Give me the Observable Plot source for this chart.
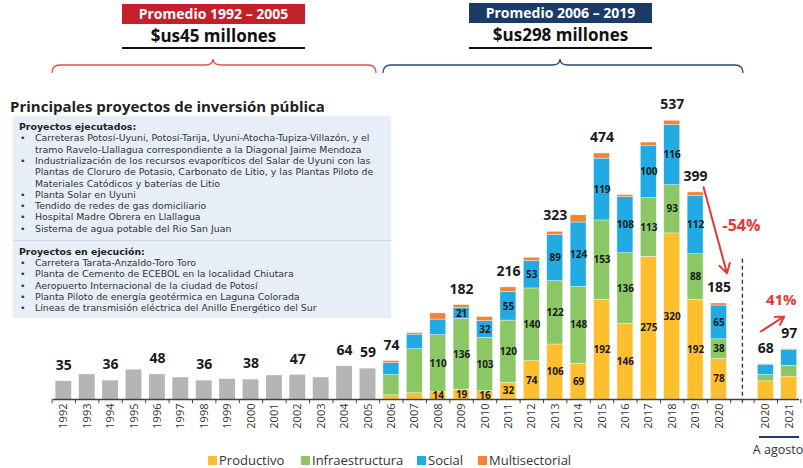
<!DOCTYPE html>
<html><head><meta charset="utf-8">
<script src="https://cdn.jsdelivr.net/npm/d3@7"></script>
<script src="https://cdn.jsdelivr.net/npm/@observablehq/plot@0.6"></script>
<style>
body{margin:0;background:#fff;font-family:"Open Sans",sans-serif;}
#wrap{position:relative;width:803px;height:468px;overflow:hidden;}
#wrap > svg{position:absolute;left:0;top:0;}
.abs{position:absolute;white-space:nowrap;}
.ln{position:absolute;white-space:nowrap;font-family:"DejaVu Sans",sans-serif;font-size:9.4px;line-height:10px;height:10px;color:#333;}
.lg{position:absolute;top:451px;font-size:13px;line-height:18px;color:#333;white-space:nowrap;}
.lg i{display:inline-block;width:9px;height:9px;margin-right:2px;vertical-align:-0px;}
</style></head><body><div id="wrap"></div>
<script>
// ---- data ----
const yearsEarly = ["1992","1993","1994","1995","1996","1997","1998","1999","2000","2001","2002","2003","2004","2005"];
const valuesEarly = [35,48,36,57,48,42,36,39,38,46,47,42,64,59];
const yearsLate = ["2006","2007","2008","2009","2010","2011","2012","2013","2014","2015","2016","2017","2018","2019","2020"];
const productivo      = [8,12,14,19,16,32,74,106,69,192,146,275,320,192,78];
const infraestructura = [39,85,110,136,103,120,140,122,148,153,136,113,93,88,38];
const social          = [23,28,30,21,32,55,53,89,124,119,108,100,116,112,65];
const multisectorial  = [4,3,12,6,8,9,6,6,14,10,4,7,8,7,4];
const yearsAug = ["2020 ago","2021 ago"];
const productivoAug = [35,44];
const infraestructuraAug = [12,21];
const socialAug = [20,30];
const multisectorialAug = [1,2];
const sectors = ["Productivo","Infraestructura","Social","Multisectorial"];
const sectorColors = ["#FDBF2D","#8BC765","#21ABE2","#F08539"];
const tickLabels = {"gap":"","2020 ago":"2020","2021 ago":"2021"};
const totalLabelKeys = ["1992","1994","1996","1998","2000","2002","2004","2005","2006","2009","2011","2013","2015","2018","2019","2020","2020 ago","2021 ago"];
const innerLabelKeys = [
  ["2008","2009","2010","2011","2012","2013","2014","2015","2016","2017","2018","2019","2020"],
  ["2008","2009","2010","2011","2012","2013","2014","2015","2016","2017","2018","2019","2020"],
  ["2009","2010","2011","2012","2013","2014","2015","2016","2017","2018","2019","2020"],
  []
];
const dropArrow = [{x1:"2019", y1:409, x2:"2020", y2:243, label:"-54%", lx:"gap", ly:335}];
const riseArrow = [{x1:"2020 ago", y1:131, x2:"2021 ago", y2:160, label:"41%", lx:"2021 ago", ly:191}];

// ---- tables ----
const keys = [...yearsEarly, ...yearsLate, "gap", ...yearsAug];
const early = yearsEarly.map((k,i)=>({key:k, value:valuesEarly[i]}));
const lateKeys = [...yearsLate, ...yearsAug];
const series = [
  [...productivo, ...productivoAug],
  [...infraestructura, ...infraestructuraAug],
  [...social, ...socialAug],
  [...multisectorial, ...multisectorialAug]
];
const stacked = [];
lateKeys.forEach((k,i)=>sectors.forEach((s,j)=>stacked.push({key:k, sector:s, value:series[j][i], show: innerLabelKeys[j].includes(k)})));
const totals = [...early.map(d=>({key:d.key,total:d.value})),
  ...lateKeys.map((k,i)=>({key:k,total:series.reduce((a,s)=>a+s[i],0)}))]
  .filter(d=>totalLabelKeys.includes(d.key));

const red = "#E53935";
const chart = Plot.plot({
  width:803, height:468,
  marginLeft:53, marginRight:4, marginTop:87.6, marginBottom:69,
  style:{fontFamily:"Open Sans", fontSize:"11px", color:"#333", background:"transparent", overflow:"visible"},
  x:{type:"band", domain:keys, paddingInner:0.32, paddingOuter:0.1, round:false, label:null},
  y:{domain:[0,600], axis:null},
  color:{domain:sectors, range:sectorColors},
  marks:[
    Plot.barY(early, {x:"key", y:"value", fill:"#B5B5B6"}),
    Plot.barY(stacked, {x:"key", y:"value", fill:"sector", order:sectors, stroke:"#fff", strokeOpacity:0.6, strokeWidth:0.6}),
    Plot.text(stacked, Plot.stackY({x:"key", y:"value", z:"sector", order:sectors,
      text:d=>d.show ? String(d.value) : "", fontSize:10, fontWeight:700, fill:"#1a1a1a"})),
    Plot.text(totals, {x:"key", y:"total", text:d=>String(d.total), dy:-16, fontSize:14, fontWeight:700, fill:"#1a1a1a"}),
    Plot.ruleX(["gap"], {y1:-7, y2:274, stroke:"#1F3A6E", strokeWidth:1.4, strokeDasharray:"4,3"}),
    Plot.ruleY([0], {stroke:"#404040", strokeWidth:1.5}),
    Plot.ruleX(keys, {x:d=>d, y1:0, y2:-8, dx:-11.7, stroke:"#404040"}),
    Plot.ruleX(keys.slice(-1), {x:d=>d, y1:0, y2:-8, dx:11.7, stroke:"#404040"}),
    Plot.axisX({tickRotate:-90, tickSize:0, tickPadding:4, tickFormat:d=>(d in tickLabels ? tickLabels[d] : d), fontSize:11, fill:"#333"}),
    Plot.arrow(dropArrow, {x1:"x1", y1:"y1", x2:"x2", y2:"y2", dx:8, stroke:red, strokeWidth:2, headLength:8}),
    Plot.arrow(riseArrow, {x1:"x1", y1:"y1", x2:"x2", y2:"y2", dx:-5, stroke:red, strokeWidth:2, headLength:8}),
    Plot.text(dropArrow, {x:"lx", y:"ly", text:"label", dx:-1, fontSize:16, fontWeight:700, fill:red}),
    Plot.text(riseArrow, {x:"lx", y:"ly", text:"label", dx:-8, fontSize:15, fontWeight:700, fill:red})
  ]
});
const wrap = document.getElementById("wrap");
wrap.appendChild(chart);

// ---- header & annotations ----
function add(html){ wrap.insertAdjacentHTML("beforeend", html); }
add(`<div class="abs" style="left:122px;top:4px;width:183px;height:20px;background:#C4202A;color:#fff;font-weight:700;font-size:14px;line-height:20px;text-align:center;">Promedio 1992 – 2005</div>`);
add(`<div class="abs" style="left:112px;top:25px;width:203px;text-align:center;font-size:17px;font-weight:700;line-height:22px;color:#111">$us45 millones</div>`);
add(`<div class="abs" style="left:122px;top:47px;width:183px;height:2px;background:#111"></div>`);
add(`<div class="abs" style="left:469px;top:3px;width:183px;height:20px;background:#1B3B67;color:#fff;font-weight:700;font-size:14px;line-height:20px;text-align:center;">Promedio 2006 – 2019</div>`);
add(`<div class="abs" style="left:459px;top:24px;width:203px;text-align:center;font-size:17px;font-weight:700;line-height:22px;color:#111">$us298 millones</div>`);
add(`<div class="abs" style="left:469px;top:47px;width:183px;height:2px;background:#111"></div>`);
add(`<svg class="abs" style="left:0;top:0" width="803" height="80"><path d="M52,73 Q52,65 60,65 L205,65 Q213,65 213,59 Q213,65 221,65 L368,65 Q376,65 376,73" fill="none" stroke="#E84B4F" stroke-width="1.3"/><path d="M383,73 Q383,65 391,65 L552,65 Q560,65 560,59 Q560,65 568,65 L735,65 Q743,65 743,73" fill="none" stroke="#2B4A7C" stroke-width="1.3"/></svg>`);

// project box
add(`<div class="abs" style="left:10px;top:95px;font-size:15px;font-weight:700;line-height:22px;color:#222">Principales proyectos de inversión pública</div>`);
add(`<div class="abs" style="left:13px;top:116px;width:378px;height:202px;background:#E8EEF7"></div>`);
add(`<div class="abs" style="left:13px;top:240px;width:378px;height:1px;background:#CCD7E7"></div>`);
function para(y0, step, header, items){
  add(`<div class="ln" style="left:19px;top:${y0-5}px;font-weight:700;color:#222">${header}</div>`);
  let y = y0 + step;
  items.forEach(lines=>{
    add(`<div class="ln" style="left:20px;top:${y-5}px">•</div>`);
    lines.forEach(t=>{ add(`<div class="ln" style="left:35px;top:${y-5}px">${t}</div>`); y += step; });
  });
}
para(127, 11.3, "Proyectos ejecutados:", [
  ["Carreteras Potosí-Uyuni,  Potosí-Tarija, Uyuni-Atocha-Tupiza-Villazón, y el","tramo Ravelo-Llallagua correspondiente  a la Diagonal Jaime Mendoza"],
  ["Industrialización de los recursos evaporíticos del Salar de Uyuni con las","Plantas de Cloruro de Potasio, Carbonato de Litio, y las Plantas Piloto de","Materiales Catódicos y baterías de Litio"],
  ["Planta Solar en Uyuni"],
  ["Tendido de redes de gas domiciliario"],
  ["Hospital Madre Obrera en Llallagua"],
  ["Sistema de agua potable del Rio San Juan"]
]);
para(252, 11.2, "Proyectos en ejecución:", [
  ["Carretera Tarata-Anzaldo-Toro Toro"],
  ["Planta de Cemento de ECEBOL en la localidad Chiutara"],
  ["Aeropuerto Internacional de la ciudad de Potosí"],
  ["Planta Piloto de energía geotérmica en Laguna Colorada"],
  ["Líneas de transmisión eléctrica del Anillo Energético del Sur"]
]);

// A agosto
add(`<div class="abs" style="left:759px;top:436px;width:40px;height:1.5px;background:#1F3A6E"></div>`);
add(`<div class="abs" style="left:748px;top:441px;width:60px;text-align:center;font-size:12.5px;line-height:18px;color:#333">A agosto</div>`);

// legend
const legendLeft = [208,301,417,478];
sectors.forEach((s,i)=>add(`<div class="lg" style="left:${legendLeft[i]}px"><i style="background:${sectorColors[i]}"></i>${s}</div>`));
</script>
</body></html>
